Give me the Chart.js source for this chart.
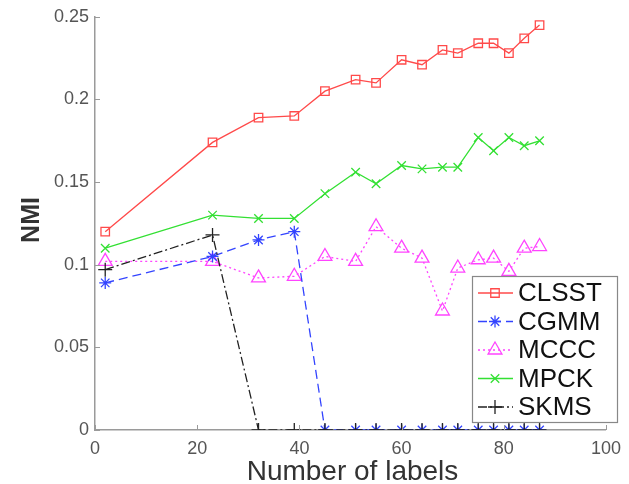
<!DOCTYPE html>
<html>
<head>
<meta charset="utf-8">
<script src="https://cdn.jsdelivr.net/npm/chart.js@4.4.0/dist/chart.umd.min.js"></script>
<style>
  html, body { margin: 0; padding: 0; background: #fff; }
  #wrap { width: 629px; height: 484px; }
</style>
</head>
<body>
<div id="wrap"><canvas id="chart" width="629" height="484"></canvas></div>
<script>
// data
const numLabels = [2, 23, 32, 39, 45, 51, 55, 60, 64, 68, 71, 75, 78, 81, 84, 87];
const clsst = [0.120, 0.174, 0.189, 0.190, 0.205, 0.212, 0.210, 0.224, 0.221, 0.230, 0.228, 0.234, 0.234, 0.228, 0.237, 0.245];
const cgmm  = [0.089, 0.105, 0.115, 0.120, 0, 0, 0, 0, 0, 0, 0, 0, 0, 0, 0, 0];
const mccc  = [0.102, 0.102, 0.092, 0.093, 0.105, 0.102, 0.123, 0.110, 0.104, 0.072, 0.098, 0.103, 0.104, 0.096, 0.110, 0.111];
const mpck  = [0.110, 0.130, 0.128, 0.128, 0.143, 0.156, 0.149, 0.160, 0.158, 0.159, 0.159, 0.177, 0.169, 0.177, 0.172, 0.175];
const skms  = [0.097, 0.118, 0, 0, 0, 0, 0, 0, 0, 0, 0, 0, 0, 0, 0, 0];

const xTicks = [0, 20, 40, 60, 80, 100];
const yTicks = [0, 0.05, 0.1, 0.15, 0.2, 0.25];
const yTickLabels = ['0', '0.05', '0.1', '0.15', '0.2', '0.25'];

const FONT = "'Liberation Sans', Arial, Helvetica, sans-serif";
const AXIS_GRAY = '#9a9a9a';

const pts = (ys) => ys.map((y, i) => ({ x: numLabels[i], y }));

const series = (label, data, color, dash, style, radius, order) => ({
    label,
    data: pts(data),
    order,
    borderColor: color,
    borderWidth: 1.3,
    borderDash: dash,
    pointStyle: style,
    pointRadius: radius,
    pointBorderColor: color,
    pointBackgroundColor: 'rgba(0,0,0,0)',
    pointBorderWidth: 1.3,
    tension: 0,
    fill: false,
});

// inward tick marks like the original
const innerTicks = {
    id: 'innerTicks',
    afterDraw(chart) {
        const { ctx, chartArea: a, scales } = chart;
        ctx.save();
        ctx.strokeStyle = AXIS_GRAY;
        ctx.lineWidth = 1;
        xTicks.forEach(v => {
            const px = Math.round(scales.x.getPixelForValue(v)) + 0.5;
            ctx.beginPath(); ctx.moveTo(px, a.bottom); ctx.lineTo(px, a.bottom - 5); ctx.stroke();
        });
        yTicks.forEach(v => {
            const py = Math.round(scales.y.getPixelForValue(v)) + 0.5;
            ctx.beginPath(); ctx.moveTo(a.left, py); ctx.lineTo(a.left + 5, py); ctx.stroke();
        });
        ctx.restore();
    }
};

// axis titles
const axisTitles = {
    id: 'axisTitles',
    afterDraw(chart) {
        const { ctx, chartArea: a } = chart;
        ctx.save();
        ctx.fillStyle = '#333';
        ctx.font = `28px ${FONT}`;
        ctx.textAlign = 'center';
        ctx.textBaseline = 'alphabetic';
        ctx.fillText('Number of labels', (a.left + a.right) / 2 + 2, 480);
        ctx.translate(32, 220);
        ctx.rotate(-Math.PI / 2);
        ctx.textBaseline = 'middle';
        ctx.font = `bold 25px ${FONT}`;
        ctx.fillText('NMI', 0, 0);
        ctx.restore();
    }
};

// boxed legend inside the plot, lower right
const boxLegend = {
    id: 'boxLegend',
    afterDraw(chart) {
        const { ctx } = chart;
        const box = { x: 472, y: 276, w: 145, h: 146 };
        ctx.save();
        ctx.fillStyle = '#fff';
        ctx.fillRect(box.x, box.y, box.w, box.h);
        ctx.strokeStyle = '#888';
        ctx.lineWidth = 1.2;
        ctx.strokeRect(box.x + 0.5, box.y + 0.5, box.w, box.h);
        ctx.font = `26px ${FONT}`;
        ctx.textBaseline = 'middle';
        ctx.textAlign = 'left';
        chart.data.datasets.forEach((ds, i) => {
            const cy = box.y + 17 + i * 28.5;
            ctx.strokeStyle = ds.borderColor;
            ctx.lineWidth = ds.borderWidth;
            ctx.setLineDash(ds.borderDash || []);
            ctx.beginPath(); ctx.moveTo(478, cy); ctx.lineTo(513, cy); ctx.stroke();
            ctx.setLineDash([]);
            ctx.fillStyle = 'rgba(0,0,0,0)';
            Chart.helpers.drawPoint(ctx, {
                pointStyle: ds.pointStyle, radius: ds.pointRadius,
                borderWidth: ds.pointBorderWidth, rotation: 0
            }, 495, cy);
            ctx.fillStyle = '#111';
            ctx.fillText(ds.label, 518, cy + 1);
        });
        ctx.restore();
    }
};

new Chart(document.getElementById('chart').getContext('2d'), {
    type: 'line',
    data: {
        datasets: [
            series('CLSST', clsst, '#ff4a4a', [], 'rect', 6, 3),
            series('CGMM', cgmm, '#3344ff', [9, 5], 'star', 6, 2),
            series('MCCC', mccc, '#ff44ff', [2, 3], 'triangle', 8, 4),
            series('MPCK', mpck, '#33e033', [], 'crossRot', 6, 5),
            series('SKMS', skms, '#222222', [9, 3, 2, 3], 'cross', 7, 1),
        ]
    },
    options: {
        responsive: false,
        animation: false,
        layout: { padding: { top: 16, right: 7, left: 0, bottom: 0 } },
        plugins: { legend: { display: false }, tooltip: { enabled: false } },
        scales: {
            x: {
                type: 'linear', min: 0, max: 100,
                afterBuildTicks: s => { s.ticks = xTicks.map(v => ({ value: v })); },
                afterFit: s => { s.height = 54; },
                grid: { drawOnChartArea: false, drawTicks: false },
                border: { display: true, color: AXIS_GRAY, width: 1.5 },
                ticks: { color: '#555', padding: 8, maxRotation: 0, font: { family: FONT, size: 18 } },
            },
            y: {
                type: 'linear', min: 0, max: 0.25,
                afterBuildTicks: s => { s.ticks = yTicks.map(v => ({ value: v })); },
                afterFit: s => { s.width = 95; },
                grid: { drawOnChartArea: false, drawTicks: false },
                border: { display: true, color: AXIS_GRAY, width: 1.5 },
                ticks: {
                    color: '#555', padding: 6, font: { family: FONT, size: 18 },
                    callback: (v) => yTickLabels[yTicks.indexOf(v)] ?? '',
                },
            }
        }
    },
    plugins: [innerTicks, axisTitles, boxLegend]
});
</script>
</body>
</html>
